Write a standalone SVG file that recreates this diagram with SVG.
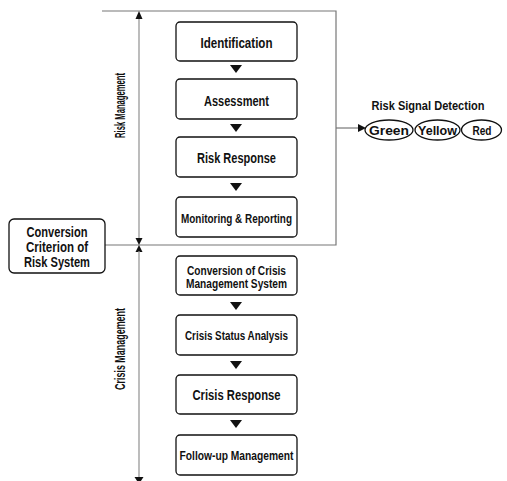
<svg xmlns="http://www.w3.org/2000/svg" width="507" height="481" viewBox="0 0 507 481">
<style>
.box{fill:#fff;stroke:#111;stroke-width:1.3}
.t{font-family:"Liberation Sans",Arial,sans-serif;font-weight:bold;font-size:15px;fill:#111;text-anchor:middle}
.s{font-size:12.5px}
.m{font-size:14px}
.ln{stroke:#777;stroke-width:1.2;fill:none}
.ax{stroke:#999;stroke-width:1.3;fill:none}
.tri{fill:#111}
.ell{fill:#fff;stroke:#111;stroke-width:1.3}
</style>
<rect width="507" height="481" fill="#fff"/>
<g id="connectors">
<polyline class="ln" points="102,11 336,11 336,245 105,245"/>
<line class="ln" x1="336" y1="128" x2="360" y2="128"/>
<polygon class="tri" points="358,124 366,128 358,132"/>
<line class="ax" x1="139" y1="14" x2="139" y2="239"/>
<polygon class="tri" points="135.5,19 139,11 142.5,19"/>
<polygon class="tri" points="135.5,238 142.5,238 139,245"/>
<polygon class="tri" points="135.5,252 142.5,252 139,245"/>
<line class="ax" x1="139" y1="251" x2="139" y2="478"/>
<polygon class="tri" points="134.5,477 143.5,477 139,484"/>
<polygon class="tri" points="230,65 242,65 236,73"/>
<polygon class="tri" points="230,124 242,124 236,132"/>
<polygon class="tri" points="230,183 242,183 236,191"/>
<polygon class="tri" points="230,302 242,302 236,310"/>
<polygon class="tri" points="230,361 242,361 236,369"/>
<polygon class="tri" points="230,420 242,420 236,428"/>
</g>
<g id="label-risk-management"><text class="t" transform="translate(124.5,105.5) rotate(-90)" textLength="65" lengthAdjust="spacingAndGlyphs">Risk Management</text></g>
<g id="label-crisis-management"><text class="t" transform="translate(124.5,349) rotate(-90)" textLength="82" lengthAdjust="spacingAndGlyphs">Crisis Management</text></g>
<g id="identification"><rect class="box" x="176" y="22" width="121" height="39" rx="4"/><text class="t" x="236.5" y="48" textLength="72" lengthAdjust="spacingAndGlyphs">Identification</text></g>
<g id="assessment"><rect class="box" x="176" y="79" width="121" height="40" rx="4"/><text class="t" x="236.5" y="105.5" textLength="65" lengthAdjust="spacingAndGlyphs">Assessment</text></g>
<g id="risk-response"><rect class="box" x="176" y="137" width="121" height="40" rx="4"/><text class="t" x="236.5" y="163" textLength="79" lengthAdjust="spacingAndGlyphs">Risk Response</text></g>
<g id="monitoring"><rect class="box" x="176" y="197" width="121" height="40" rx="4"/><text class="t s" x="236.5" y="222.5" textLength="111" lengthAdjust="spacingAndGlyphs">Monitoring &amp; Reporting</text></g>
<g id="conversion-criterion"><rect class="box" x="9" y="219" width="96" height="54" rx="5"/>
<text class="t m" x="57" y="237" textLength="61" lengthAdjust="spacingAndGlyphs">Conversion</text>
<text class="t m" x="57" y="252" textLength="62" lengthAdjust="spacingAndGlyphs">Criterion of</text>
<text class="t m" x="57" y="267" textLength="66" lengthAdjust="spacingAndGlyphs">Risk System</text></g>
<g id="risk-signal"><text class="t s" x="428" y="110" textLength="113" lengthAdjust="spacingAndGlyphs">Risk Signal Detection</text>
<ellipse class="ell" cx="389" cy="130" rx="24" ry="10"/><text class="t s" x="389" y="135" textLength="40" lengthAdjust="spacingAndGlyphs">Green</text>
<ellipse class="ell" cx="437.5" cy="130" rx="22.5" ry="10"/><text class="t s" x="437.5" y="135" textLength="39" lengthAdjust="spacingAndGlyphs">Yellow</text>
<ellipse class="ell" cx="481.5" cy="130" rx="20" ry="10"/><text class="t s" x="482" y="135" textLength="19" lengthAdjust="spacingAndGlyphs">Red</text></g>
<g id="conversion-crisis"><rect class="box" x="176" y="256" width="121" height="39" rx="4"/>
<text class="t s" x="236.5" y="274.5" textLength="99" lengthAdjust="spacingAndGlyphs">Conversion of Crisis</text>
<text class="t s" x="236.5" y="288" textLength="101" lengthAdjust="spacingAndGlyphs">Management System</text></g>
<g id="crisis-status"><rect class="box" x="176" y="315" width="121" height="40" rx="4"/><text class="t s" x="236.5" y="340" textLength="103" lengthAdjust="spacingAndGlyphs">Crisis Status Analysis</text></g>
<g id="crisis-response"><rect class="box" x="176" y="375" width="121" height="39" rx="4"/><text class="t m" x="236.5" y="400" textLength="88" lengthAdjust="spacingAndGlyphs">Crisis Response</text></g>
<g id="follow-up"><rect class="box" x="176" y="435" width="121" height="40" rx="4"/><text class="t s" x="236.5" y="460" textLength="114" lengthAdjust="spacingAndGlyphs">Follow-up Management</text></g>
</svg>
